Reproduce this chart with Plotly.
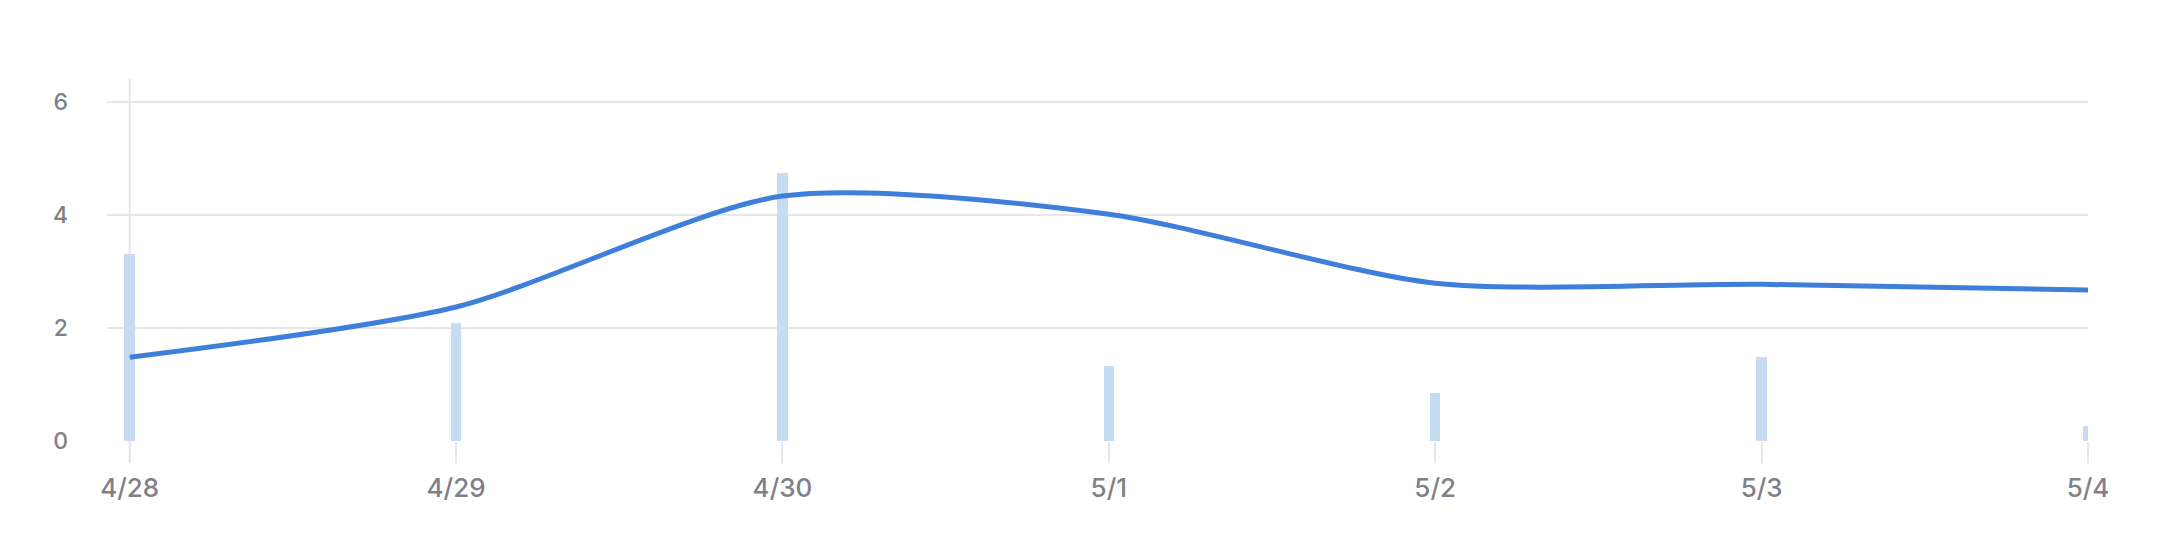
import plotly.graph_objects as go

dates = ["2024-04-28", "2024-04-29", "2024-04-30", "2024-05-01",
         "2024-05-02", "2024-05-03", "2024-05-04"]
tick_labels = ["4/28", "4/29", "4/30", "5/1", "5/2", "5/3", "5/4"]
bar_values = [3.30, 2.09, 4.74, 1.33, 0.84, 1.49, 0.27]
line_values = [1.48, 2.37, 4.33, 4.01, 2.79, 2.77, 2.67]
y_ticks = [0, 2, 4, 6]

DAY_MS = 86400000

fig = go.Figure()
fig.add_trace(go.Bar(
    x=dates, y=bar_values,
    width=0.032 * DAY_MS,
    marker=dict(color="#c5dcf3", line=dict(width=0)),
    cliponaxis=False,
    hoverinfo="skip",
))
fig.add_trace(go.Scatter(
    x=dates, y=line_values,
    mode="lines",
    line=dict(color="#3e7fdb", width=5, shape="spline", smoothing=0.75),
    hoverinfo="skip",
))

fig.add_shape(
    type="line", xref="x", yref="paper",
    x0=dates[0], x1=dates[0], y0=-0.06, y1=1.0,
    line=dict(color="#e6e6eb", width=2), layer="below",
)

fig.update_layout(
    width=2149, height=535,
    margin=dict(l=99, r=69, t=71, b=102),
    paper_bgcolor="white", plot_bgcolor="white",
    showlegend=False,
    font=dict(family="Inter, Lato, sans-serif", size=23, color="#808088"),
    bargap=0,
)
fig.update_xaxes(
    type="date",
    range=["2024-04-27 22:20", "2024-05-04 00:00"],
    tickvals=dates, ticktext=tick_labels,
    showgrid=False, zeroline=False, showline=False,
    ticks="outside", ticklen=21, tickwidth=2, tickcolor="#e6e6eb",
    ticklabelstandoff=3,
    tickfont=dict(size=26, color="#808088", weight=500),
)
fig.update_yaxes(
    range=[0, 6.4],
    tickvals=y_ticks,
    showgrid=True, gridcolor="#e6e6eb", gridwidth=2,
    zeroline=False, showline=False,
    ticks="", ticklabelstandoff=38,
    tickfont=dict(size=23, color="#808088", weight=500),
)

fig.write_html("out.html")
